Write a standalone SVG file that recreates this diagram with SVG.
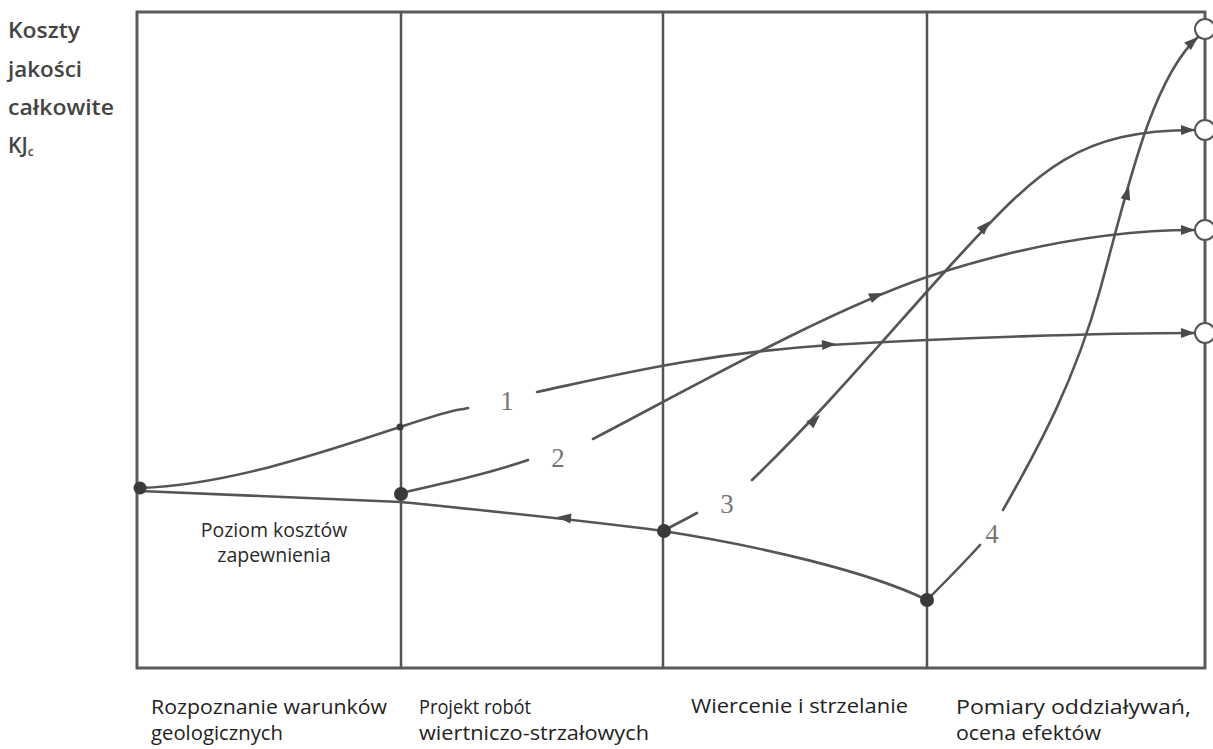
<svg xmlns="http://www.w3.org/2000/svg" xmlns:xlink="http://www.w3.org/1999/xlink" width="1213" height="749" viewBox="0 0 1213 749">
<style>
.frame{fill:none;stroke:#5a5a5a;stroke-width:3}
.grid{fill:none;stroke:#555;stroke-width:2.5}
.curve{fill:none;stroke:#555;stroke-width:2.6;stroke-linecap:round}
.dot{fill:#3a3a3a}
.ring{fill:#fff;stroke:#555;stroke-width:2}
.ah{fill:#4a4a4a}
.num{font-family:"Liberation Serif","DejaVu Serif",serif;font-size:27px;fill:#777}
.axis{font-family:"Open Sans","Noto Sans",sans-serif;font-size:21px;font-weight:600;fill:#444}
.lbl{font-family:"Open Sans","Noto Sans",sans-serif;font-size:19.5px;fill:#2a2a2a}
.cat{font-family:"Open Sans","Noto Sans",sans-serif;font-size:20px;fill:#222}
</style>
<defs>
<polygon id="ah" points="0,0 -14,-5 -14,5"/>
<marker id="end" markerUnits="userSpaceOnUse" markerWidth="16" markerHeight="12" refX="14" refY="6" orient="auto">
<path d="M0,1 L14,6 L0,11 z" fill="#4a4a4a"/>
</marker>
</defs>
<rect width="1213" height="749" fill="#fff"/>
<g id="frame">
<path class="frame" d="M137,668 L137,12 L1205,12 L1205,668 Z"/>
<line class="grid" x1="401" y1="12" x2="401" y2="668"/>
<line class="grid" x1="663" y1="12" x2="663" y2="668"/>
<line class="grid" x1="927" y1="12" x2="927" y2="668"/>
</g>
<g id="axis-label">
<text class="axis" x="8" y="38" textLength="72" lengthAdjust="spacingAndGlyphs">Koszty</text>
<text class="axis" x="8" y="77" textLength="74" lengthAdjust="spacingAndGlyphs">jakości</text>
<text class="axis" x="8" y="115" textLength="106" lengthAdjust="spacingAndGlyphs">całkowite</text>
<text class="axis" x="8" y="153">KJ<tspan font-size="12" dy="3">c</tspan></text>
</g>
<g id="connectors">
<path id="baseline" class="curve" d="M140,491 C250,495 330,499 401,502 C480,510 580,520 663,531 C760,546 870,572 927,600"/>
<path id="curve1a" class="curve" d="M140,488 C230,485 330,450 400,427 S452,412 468,408"/>
<path id="curve1b" class="curve" marker-end="url(#end)" d="M537,392 C620,374 700,354 830,345 C950,338 1100,333 1195,333"/>
<path id="curve2a" class="curve" d="M401,493 C450,482 490,473 528,460"/>
<path id="curve2b" class="curve" marker-end="url(#end)" d="M593,439 C700,383 830,310 927,277 C1030,243 1120,230 1195,230"/>
<path id="curve3a" class="curve" d="M663,531 C676,524 688,518 697,513"/>
<path id="curve3b" class="curve" marker-end="url(#end)" d="M752,480 C830,405 900,320 960,255 C1040,168 1080,130 1195,130"/>
<path id="curve4a" class="curve" d="M927,600 C945,582 962,565 980,545"/>
<path id="curve4b" class="curve" marker-end="url(#end)" d="M1003,510 C1040,445 1075,380 1100,290 C1125,200 1150,80 1198,37"/>
<use href="#ah" class="ah" transform="translate(836,344) rotate(-4)"/>
<use href="#ah" class="ah" transform="translate(883,293) rotate(-22)"/>
<use href="#ah" class="ah" transform="translate(820,415) rotate(-44)"/>
<use href="#ah" class="ah" transform="translate(990,221) rotate(-47)"/>
<use href="#ah" class="ah" transform="translate(1129,186) rotate(-75)"/>
<use href="#ah" class="ah" transform="translate(557,517) rotate(186)"/>
</g>
<g id="nodes">
<circle class="dot" cx="140" cy="488" r="6.5"/>
<circle class="dot" cx="400" cy="427" r="3.5"/>
<circle class="dot" cx="401" cy="494" r="7"/>
<circle class="dot" cx="664" cy="531" r="7"/>
<circle class="dot" cx="927" cy="600" r="7"/>
<circle class="ring" cx="1205" cy="29" r="10"/>
<circle class="ring" cx="1205" cy="130" r="10"/>
<circle class="ring" cx="1205" cy="230" r="10"/>
<circle class="ring" cx="1205" cy="333" r="10"/>
</g>
<g id="numbers">
<text class="num" x="507" y="410" text-anchor="middle">1</text>
<text class="num" x="558" y="467" text-anchor="middle">2</text>
<text class="num" x="727" y="513" text-anchor="middle">3</text>
<text class="num" x="992" y="543" text-anchor="middle">4</text>
</g>
<g id="level-label">
<text class="lbl" x="274" y="537" text-anchor="middle">Poziom kosztów</text>
<text class="lbl" x="274" y="562" text-anchor="middle">zapewnienia</text>
</g>
<g id="categories">
<text class="cat" x="151" y="714" textLength="236" lengthAdjust="spacingAndGlyphs">Rozpoznanie warunków</text>
<text class="cat" x="151" y="740" textLength="132" lengthAdjust="spacingAndGlyphs">geologicznych</text>
<text class="cat" x="419" y="714" textLength="112" lengthAdjust="spacingAndGlyphs">Projekt robót</text>
<text class="cat" x="419" y="740" textLength="230" lengthAdjust="spacingAndGlyphs">wiertniczo-strzałowych</text>
<text class="cat" x="691" y="713" textLength="217" lengthAdjust="spacingAndGlyphs">Wiercenie i strzelanie</text>
<text class="cat" x="956" y="714" textLength="235" lengthAdjust="spacingAndGlyphs">Pomiary oddziaływań,</text>
<text class="cat" x="956" y="740" textLength="145" lengthAdjust="spacingAndGlyphs">ocena efektów</text>
</g>
</svg>
